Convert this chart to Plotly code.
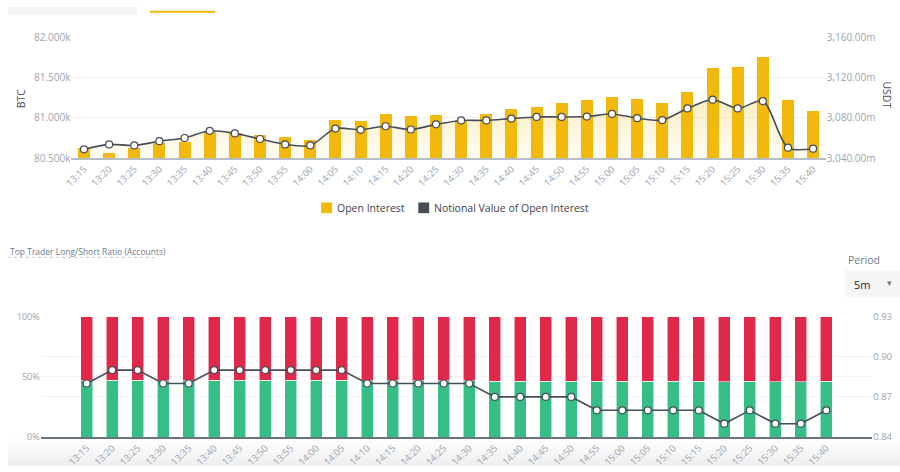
import plotly.graph_objects as go

# ---------------- data ----------------
times = ["13:15", "13:20", "13:25", "13:30", "13:35", "13:40", "13:45", "13:50", "13:55", "14:00",
         "14:05", "14:10", "14:15", "14:20", "14:25", "14:30", "14:35", "14:40", "14:45", "14:50",
         "14:55", "15:00", "15:05", "15:10", "15:15", "15:20", "15:25", "15:30", "15:35", "15:40"]

open_interest_btc = [80630, 80568, 80621, 80686, 80701, 80835, 80815, 80783, 80758, 80730,
                     80980, 80961, 81050, 81029, 81037, 80975, 81050, 81110, 81134, 81191,
                     81223, 81259, 81240, 81183, 81320, 81623, 81632, 81765, 81223, 81090]

notional_usdt_m = [3048.7, 3053.6, 3052.6, 3056.8, 3060.0, 3067.2, 3064.6, 3059.0, 3053.6, 3052.6,
                   3069.4, 3068.2, 3071.7, 3068.5, 3073.6, 3077.5, 3077.5, 3079.4, 3081.0, 3081.0,
                   3081.4, 3084.0, 3079.8, 3077.9, 3089.5, 3098.3, 3089.5, 3096.9, 3050.3, 3049.3]

long_pct = [46.81, 47.09, 47.09, 46.81, 46.81, 47.09, 47.09, 47.09, 47.20, 47.20,
            47.09, 46.81, 46.81, 46.81, 46.81, 46.81, 46.52, 46.52, 46.52, 46.52,
            46.24, 46.24, 46.24, 46.24, 46.24, 45.95, 46.24, 45.95, 45.95, 46.24]
short_pct = [round(100 - v, 2) for v in long_pct]

ls_ratio = [0.88, 0.89, 0.89, 0.88, 0.88, 0.89, 0.89, 0.89, 0.89, 0.89,
            0.89, 0.88, 0.88, 0.88, 0.88, 0.88, 0.87, 0.87, 0.87, 0.87,
            0.86, 0.86, 0.86, 0.86, 0.86, 0.85, 0.86, 0.85, 0.85, 0.86]

btc_ticks = [80500, 81000, 81500, 82000]
btc_ticktext = ["80.500k", "81.000k", "81.500k", "82.000k"]
usdt_ticks = [3040, 3080, 3120, 3160]
usdt_ticktext = ["3,040.00m", "3,080.00m", "3,120.00m", "3,160.00m"]
pct_ticks = [0, 50, 100]
pct_ticktext = ["0%", "50%", "100%"]
ratio_ticks = [0.84, 0.87, 0.90, 0.93]
ratio_ticktext = ["0.84", "0.87", "0.90", "0.93"]

# ---------------- style ----------------
W, H = 900, 472
YELLOW = "#F0B90B"
DARK = "#474D57"
GREEN = "#37BE86"
RED = "#E0294A"
TICK = "#9CA3AE"
GRID = "#EFF0F2"
FONT = "Open Sans"


def px(x):
    return x / W


def py(y):
    return 1 - y / H


fig = go.Figure()

fig.add_trace(go.Bar(x=times, y=open_interest_btc, xaxis="x", yaxis="y",
                     marker=dict(color=YELLOW, line=dict(width=0)),
                     name="Open Interest", showlegend=False, hoverinfo="x+y"))
fig.add_trace(go.Scatter(x=times, y=notional_usdt_m, xaxis="x", yaxis="y2",
                         mode="lines+markers", name="Notional Value of Open Interest",
                         line=dict(color=DARK, width=1.6, shape="spline", smoothing=0.8),
                         marker=dict(size=7, color="white", line=dict(color=DARK, width=1.2)),
                         fill="tozeroy",
                         fillgradient=dict(type="vertical", start=usdt_ticks[0], stop=max(notional_usdt_m),
                                           colorscale=[[0, "rgba(240,185,11,0.03)"],
                                                       [1, "rgba(240,185,11,0.24)"]]),
                         showlegend=False))

fig.add_trace(go.Bar(x=times, y=long_pct, xaxis="x2", yaxis="y3", name="Long",
                     marker=dict(color=GREEN, line=dict(width=0.8, color="rgba(255,255,255,0.7)")),
                     showlegend=False))
fig.add_trace(go.Bar(x=times, y=short_pct, xaxis="x2", yaxis="y3", name="Short",
                     marker=dict(color=RED, line=dict(width=0.8, color="rgba(255,255,255,0.7)")),
                     showlegend=False))
fig.add_trace(go.Scatter(x=times, y=ls_ratio, xaxis="x2", yaxis="y4", mode="lines+markers",
                         name="Long/Short Ratio",
                         line=dict(color=DARK, width=1.6),
                         marker=dict(size=7, color="white", line=dict(color=DARK, width=1.2)),
                         showlegend=False))

tickfont = dict(family=FONT, size=9.5, color=TICK)
ytickfont = dict(family=FONT, size=10, color=TICK)

shapes = []
annotations = []

shapes.append(dict(type="rect", xref="paper", yref="paper", x0=0, x1=px(130), y0=py(8), y1=1,
                   fillcolor="#F3F3F3", line=dict(width=0), layer="below"))
shapes.append(dict(type="line", xref="paper", yref="paper", x0=px(143), x1=px(209), y0=py(5), y1=py(5),
                   line=dict(color=YELLOW, width=2)))

shapes.append(dict(type="rect", xref="paper", yref="paper", x0=px(316), x1=px(327), y0=py(212), y1=py(201),
                   fillcolor=YELLOW, line=dict(width=0)))
annotations.append(dict(text="Open Interest", xref="paper", yref="paper", x=px(330), y=py(206.5),
                        xanchor="left", yanchor="middle", showarrow=False,
                        font=dict(family=FONT, size=10.5, color="#3C424B")))
shapes.append(dict(type="rect", xref="paper", yref="paper", x0=px(414), x1=px(425), y0=py(212), y1=py(201),
                   fillcolor=DARK, line=dict(width=0)))
annotations.append(dict(text="Notional Value of Open Interest", xref="paper", yref="paper", x=px(428), y=py(206.5),
                        xanchor="left", yanchor="middle", showarrow=False,
                        font=dict(family=FONT, size=10.5, color="#3C424B")))

annotations.append(dict(text="BTC", xref="paper", yref="paper", x=px(14), y=py(94), textangle=-90,
                        xanchor="center", yanchor="middle",
                        showarrow=False, font=dict(family=FONT, size=10.5, color="#474D57")))
annotations.append(dict(text="USDT", xref="paper", yref="paper", x=px(887), y=py(90), textangle=90,
                        xanchor="center", yanchor="middle",
                        showarrow=False, font=dict(family=FONT, size=10.5, color="#474D57")))

annotations.append(dict(text="Top Trader Long/Short Ratio (Accounts)", xref="paper", yref="paper",
                        x=0, y=py(251), xanchor="left", yanchor="middle", showarrow=False,
                        font=dict(family=FONT, size=8.5, color="#707A8A")))
shapes.append(dict(type="line", xref="paper", yref="paper", x0=0, x1=px(152), y0=py(257.5), y1=py(257.5),
                   line=dict(color="#B7BDC6", width=0.8, dash="dot")))

annotations.append(dict(text="Period", xref="paper", yref="paper", x=px(846), y=py(260),
                        xanchor="left", yanchor="middle", showarrow=False,
                        font=dict(family=FONT, size=10.5, color="#707A8A")))
shapes.append(dict(type="rect", xref="paper", yref="paper", x0=px(844), x1=1, y0=py(298), y1=py(271),
                   fillcolor="#F5F5F5", line=dict(width=0), layer="below"))
annotations.append(dict(text="5m", xref="paper", yref="paper", x=px(852), y=py(285),
                        xanchor="left", yanchor="middle", showarrow=False,
                        font=dict(family=FONT, size=11, color="#1E2329")))
annotations.append(dict(text="▾", xref="paper", yref="paper", x=px(889), y=py(284),
                        xanchor="center", yanchor="middle", showarrow=False,
                        font=dict(family="DejaVu Sans", size=9, color="#707A8A")))

n_strips = 10
for i in range(n_strips):
    y0 = 444 + i * 2.8
    shapes.append(dict(type="rect", xref="paper", yref="paper", x0=0, x1=1, y0=py(y0 + 2.8), y1=py(y0),
                       fillcolor="rgba(120,120,120,%.3f)" % (0.012 * (i + 1)), line=dict(width=0),
                       layer="below"))

fig.update_layout(
    width=W, height=H, autosize=False,
    margin=dict(l=0, r=0, t=0, b=0),
    paper_bgcolor="white", plot_bgcolor="rgba(0,0,0,0)",
    barmode="stack", bargap=0.52,
    font=dict(family=FONT),
    showlegend=False,
    xaxis=dict(domain=[px(64), px(825)], anchor="y", type="category", tickangle=-45,
               tickfont=tickfont, showgrid=False, showline=True, linecolor="#B7BDC6", linewidth=1.5,
               ticks="", fixedrange=True),
    yaxis=dict(domain=[py(155.3), py(31.7)], anchor="x", range=[btc_ticks[0], btc_ticks[-1]],
               tickvals=btc_ticks, ticktext=btc_ticktext, tickfont=ytickfont,
               showgrid=True, gridcolor=GRID, gridwidth=1, zeroline=False, showline=False, ticks=""),
    yaxis2=dict(overlaying="y", side="right", anchor="x", range=[usdt_ticks[0], usdt_ticks[-1]],
                tickvals=usdt_ticks, ticktext=usdt_ticktext, tickfont=ytickfont,
                showgrid=False, zeroline=False, showline=False, ticks=""),
    xaxis2=dict(domain=[px(33), px(872)], anchor="y3", type="category", tickangle=-45,
                tickfont=tickfont, showgrid=False, showline=True, linecolor="#6B7280", linewidth=1.5,
                ticks="", fixedrange=True),
    yaxis3=dict(domain=[py(442.3), py(318.3)], anchor="x2", range=[0, 100],
                tickvals=pct_ticks, ticktext=pct_ticktext, tickfont=dict(family=FONT, size=9, color=TICK),
                showgrid=True, gridcolor="#F2F3F5", zeroline=False, showline=False, ticks=""),
    yaxis4=dict(overlaying="y3", side="right", anchor="x2", range=[ratio_ticks[0], ratio_ticks[-1]],
                tickvals=ratio_ticks, ticktext=ratio_ticktext, tickfont=dict(family=FONT, size=9.5, color=TICK),
                showgrid=True, gridcolor="#F2F3F5", zeroline=False, showline=False, ticks=""),
    shapes=shapes,
    annotations=annotations,
)

fig.write_html("out.html", config={"displayModeBar": False},
               post_script="document.body.style.margin='0';document.body.style.padding='0';"
                           "document.documentElement.style.overflow='hidden';"
                           "document.body.style.overflow='hidden';")
